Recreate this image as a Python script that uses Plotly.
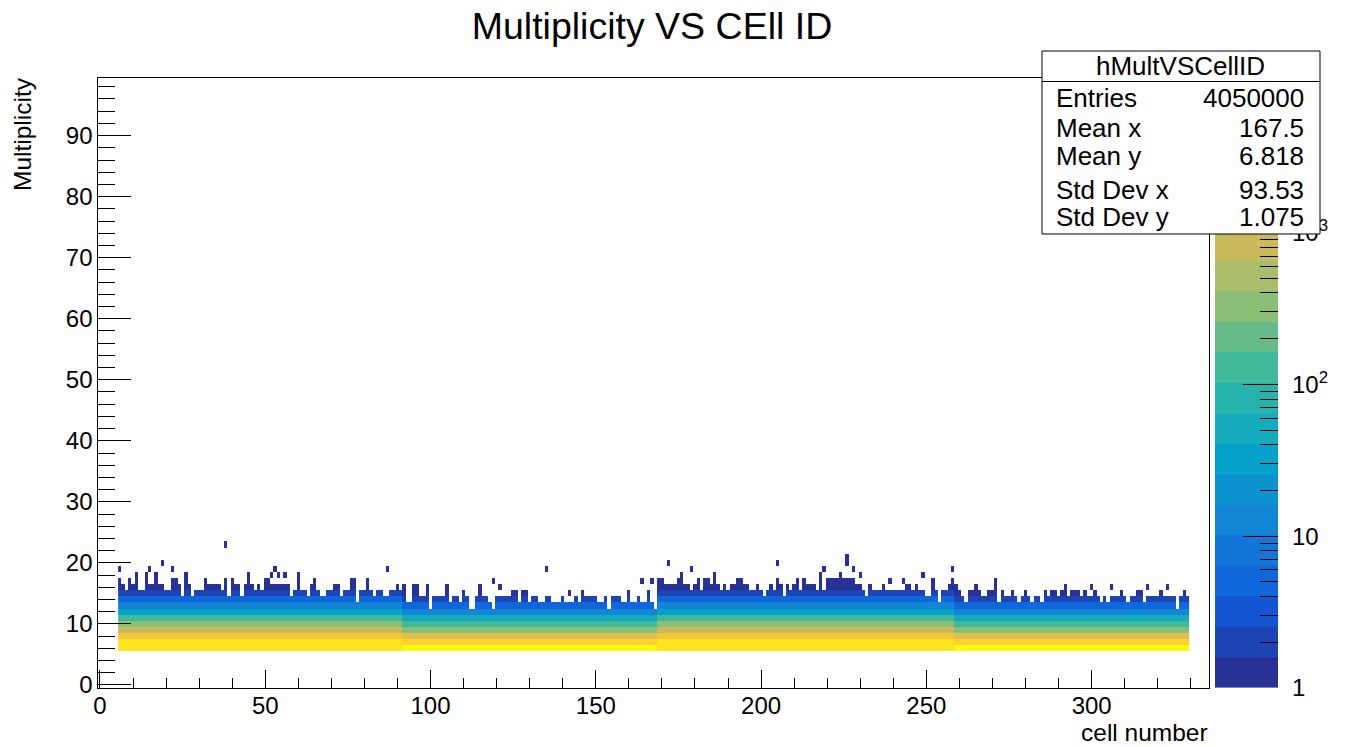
import numpy as np
import plotly.graph_objects as go

# ---------- data ----------
CELL_FIRST = 6
TOPS_006_047 = [17,16,15,17,16,18,15,15,18,16,16,18,16,16,15,15,17,17,16,14,18,16,14,15,15,15,17,16,16,16,16,15,17,14,17,16,16,14,16,18,16,15]
TOPS_048_087 = [16,15,17,17,16,16,16,16,16,16,14,15,18,15,15,14,16,17,15,14,14,15,15,16,16,14,15,15,17,17,13,15,15,17,15,14,15,15,14,14]
TOPS_088_130 = [15,15,16,15,16,13,13,16,16,14,14,16,12,14,14,14,14,16,13,14,14,13,15,14,12,12,14,16,14,14,13,12,14,14,14,14,14,15,15,13,15,15,13]
TOPS_131_172 = [14,14,13,13,14,14,13,13,13,14,13,13,13,14,13,15,14,14,14,14,13,13,14,12,14,14,14,13,13,14,13,13,14,13,13,15,13,12,17,17,16,16]
TOPS_173_214 = [16,16,17,18,16,16,15,16,17,15,17,17,16,18,16,15,16,15,16,16,17,17,16,16,15,15,16,15,14,15,16,15,17,16,14,16,15,16,17,15,17,16]
TOPS_215_258 = [16,16,15,18,15,17,17,17,17,18,17,17,17,17,16,16,15,14,16,15,15,15,16,15,15,15,15,15,15,16,16,15,16,15,15,14,14,17,15,13,15,15,16,17]
TOPS_259_293 = [16,15,14,13,15,15,16,15,14,14,15,15,16,13,15,14,14,15,14,13,14,15,14,13,14,14,13,15,14,15,15,14,15,16,14]
TOPS_294_329 = [15,15,15,14,15,14,14,15,14,13,14,13,14,14,14,15,14,13,14,14,15,15,13,14,14,14,14,15,14,14,14,14,12,14,15,14]

FLOATER_CELLS = [6,15,19,22,38,52,53,54,56,87,119,121,135,142,160,164,167,172,179,205,219,226,226,228,230,239,243,249,258,271,300,306,317,323]
FLOATER_ROWS  = [19,19,20,19,23,18,19,18,18,19,17,16,19,15,15,17,17,20,19,20,19,20,21,19,18,17,17,18,19,17,16,16,16,16]

PROFILE_FIRST_ROW = 6
PROFILE_BAND_A = [6000,4500,2300,800,325,110,32,12,5,2.2]    # cells 6-91 and 169-258
PROFILE_BAND_B = [8000,2800,1400,400,130,45,16,6,2]          # cells 92-168 and 259-329
BAND_CELLS = [(6,91,"A"),(92,168,"B"),(169,258,"A"),(259,329,"B")]

X_TICKS = [0,50,100,150,200,250,300]
Y_TICKS = [0,10,20,30,40,50,60,70,80,90]
Z_MAJOR = [0,1,2,3]
Z_LABELS = ["1","10","10<sup>2</sup>","10<sup>3</sup>"]
Z_MAX = 4.02
N_LEVELS = 20

STATS_NAMES = ["Entries","Mean x","Mean y","Std Dev x","Std Dev y"]
STATS_VALUES = ["4050000","167.5","6.818","93.53","1.075"]
STATS_Y_PX = [98,128,156,190,217]

BIRD = [(40,50,150),(15,92,221),(20,129,214),(6,164,202),(46,183,164),
        (135,191,119),(209,187,89),(254,200,50),(249,251,14)]

# ---------- layout constants ----------
W, H = 1345, 747
FONT = "Liberation Sans"
INK = "#000000"
fx = lambda p: p / W
fy = lambda p: 1 - p / H

# ---------- build matrix ----------
tops = TOPS_006_047+TOPS_048_087+TOPS_088_130+TOPS_131_172+TOPS_173_214+TOPS_215_258+TOPS_259_293+TOPS_294_329
cells = list(range(CELL_FIRST, CELL_FIRST + len(tops)))
rows = list(range(5, 26))
counts = np.full((len(rows), len(cells)), np.nan)
profiles = {"A": PROFILE_BAND_A, "B": PROFILE_BAND_B}
for lo, hi, name in BAND_CELLS:
    prof = profiles[name]
    for c in range(lo, hi + 1):
        for r in range(PROFILE_FIRST_ROW, tops[c - CELL_FIRST] + 1):
            i = r - PROFILE_FIRST_ROW
            counts[r - rows[0], c - CELL_FIRST] = prof[i] if i < len(prof) else 1
for c, r in zip(FLOATER_CELLS, FLOATER_ROWS):
    counts[r - rows[0], c - CELL_FIRST] = 1
logz = np.log10(counts)

# ---------- colours ----------
bird = np.array(BIRD, float)
stops = np.linspace(0, 1, len(BIRD))
cols = []
for k in range(N_LEVELS):
    t = k / (N_LEVELS - 1)
    rgb = [int(round(np.interp(t, stops, bird[:, j]))) for j in range(3)]
    cols.append(f"rgb({rgb[0]},{rgb[1]},{rgb[2]})")
scale = []
for k, c in enumerate(cols):
    scale += [[k / N_LEVELS, c], [(k + 1) / N_LEVELS, c]]

fig = go.Figure()
fig.add_trace(go.Heatmap(
    x=cells, y=rows, z=logz, zmin=0, zmax=Z_MAX, colorscale=scale, showscale=False,
    hoverongaps=False, xaxis="x", yaxis="y", name="hMultVSCellID"))

# colour palette drawn as its own small axis so that it can have ROOT-style ticks
lev_w = Z_MAX / N_LEVELS
lev_centres = [(k + 0.5) * lev_w for k in range(N_LEVELS)]
fig.add_trace(go.Heatmap(
    x=[0], y=lev_centres, z=[[v] for v in lev_centres], zmin=0, zmax=Z_MAX, colorscale=scale,
    showscale=False, xaxis="x2", yaxis="y2", hoverinfo="skip"))

z_minor = [np.log10(m * 10.0**d) for d in range(4) for m in range(2, 10) if m * 10.0**d < 10**Z_MAX]

tickfont = dict(family=FONT, size=24, color=INK)
fig.update_layout(
    width=W, height=H, autosize=False,
    margin=dict(l=0, r=0, t=0, b=0, autoexpand=False),
    paper_bgcolor="white", plot_bgcolor="white",
    showlegend=False,
    font=dict(family=FONT, color=INK),
    title=dict(text="Multiplicity VS CEll ID", x=fx(652), y=fy(26), xanchor="center", yanchor="middle",
               font=dict(family=FONT, size=37.5, color=INK)),
    xaxis=dict(domain=[fx(98.3), fx(1209)], range=[-0.5, 335.5], anchor="y", automargin=False,
               tickvals=X_TICKS, ticks="inside", ticklen=18, tickwidth=1, tickcolor=INK,
               tickfont=tickfont, showline=True, linecolor=INK, linewidth=1, mirror=True,
               showgrid=False, zeroline=False, ticklabelstandoff=-4,
               minor=dict(dtick=10, tick0=0, ticks="inside", ticklen=10, tickwidth=1, tickcolor=INK, showgrid=False)),
    yaxis=dict(domain=[fy(688), fy(77.6)], range=[-0.5, 99.5], anchor="x", automargin=False,
               tickvals=Y_TICKS, ticks="inside", ticklen=33, tickwidth=1, tickcolor=INK,
               tickfont=tickfont, showline=True, linecolor=INK, linewidth=1, mirror=True,
               showgrid=False, zeroline=False,
               minor=dict(dtick=2, tick0=0, ticks="inside", ticklen=17, tickwidth=1, tickcolor=INK, showgrid=False)),
    xaxis2=dict(domain=[fx(1215), fx(1278)], range=[-0.5, 0.5], anchor="y2", visible=False, automargin=False),
    yaxis2=dict(domain=[fy(688), fy(77.6)], range=[0, Z_MAX], anchor="x2", side="right", automargin=False,
                tickvals=Z_MAJOR, ticktext=Z_LABELS, ticks="inside", ticklen=35, tickwidth=1, tickcolor=INK,
                tickfont=tickfont, showline=False, showgrid=False, zeroline=False, ticklabelstandoff=13,
                minor=dict(tickvals=z_minor, ticks="inside", ticklen=18, tickwidth=1, tickcolor=INK, showgrid=False)),
)

# stats box
fig.add_shape(type="rect", xref="paper", yref="paper", x0=fx(1042), x1=fx(1320), y0=fy(234), y1=fy(51),
              fillcolor="white", line=dict(color=INK, width=1), layer="above")
fig.add_shape(type="line", xref="paper", yref="paper", x0=fx(1042), x1=fx(1320), y0=fy(81.5), y1=fy(81.5),
              line=dict(color=INK, width=1), layer="above")

def note(text, x, y, xanchor="center", size=26, **kw):
    fig.add_annotation(text=text, xref="paper", yref="paper", x=fx(x), y=fy(y), xanchor=xanchor,
                       yanchor="middle", showarrow=False, font=dict(family=FONT, size=size, color=INK),
                       borderpad=0, **kw)

note("hMultVSCellID", 1180, 66)
for name, value, py in zip(STATS_NAMES, STATS_VALUES, STATS_Y_PX):
    note(name, 1055, py, "left")
    note(value, 1305, py, "right")
note("cell number", 1209, 732, "right", size=24.5)
note("Multiplicity", 22, 134, "center", size=24.5, textangle=-90)

fig.write_html("out.html", config={"displayModeBar": False},
               post_script="document.body.style.margin='0';document.body.style.overflow='hidden';window.dispatchEvent(new Event('resize'));")
